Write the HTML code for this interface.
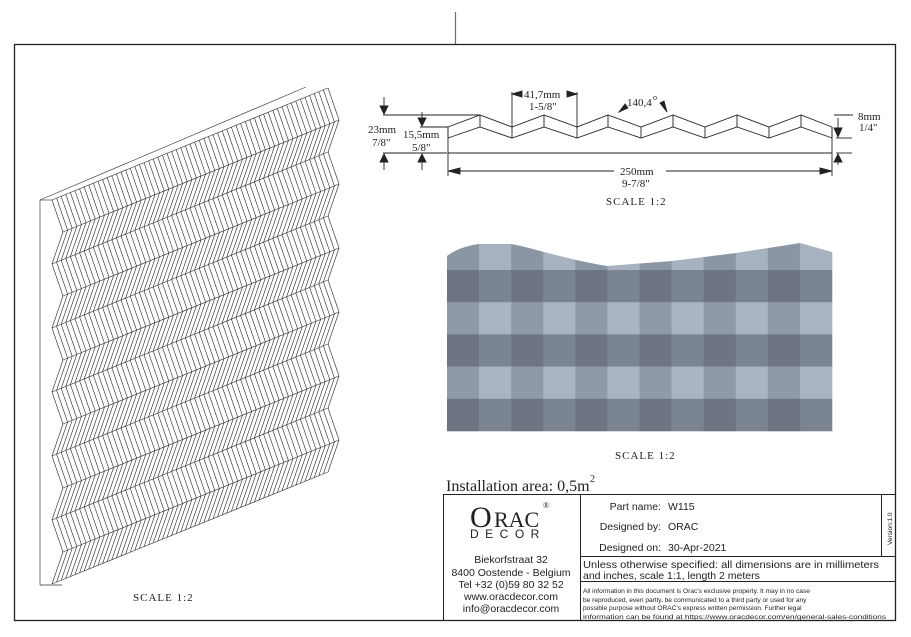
<!DOCTYPE html>
<html><head><meta charset="utf-8"><style>
html,body{margin:0;padding:0;background:#fff;width:911px;height:637px;overflow:hidden}
svg{display:block}
.s{font-family:"Liberation Serif",serif}
.a{font-family:"Liberation Sans",sans-serif}
</style></head><body>
<svg id="g" width="911" height="637" viewBox="0 0 911 637" xmlns="http://www.w3.org/2000/svg">
<rect x="0" y="0" width="911" height="637" fill="#fff"/>
<line x1="455.5" y1="12" x2="455.5" y2="44" stroke="#2a8a9a" stroke-width="1.2"/>
<rect x="14.5" y="44.5" width="881" height="576" fill="none" stroke="#222" stroke-width="1.3"/>
<g id="panel" stroke="#333" stroke-width="0.65" fill="none"></g>
<g id="grid"></g>
<g id="prof" stroke="#222" stroke-width="0.9" fill="none"></g>
<g stroke="#222" stroke-width="0.9" fill="#222">
<line x1="383" y1="115" x2="480" y2="115"/>
<line x1="420" y1="127" x2="448" y2="127"/>
<line x1="383" y1="153" x2="447" y2="153"/>
<line x1="384" y1="97" x2="384" y2="112"/><polygon points="380,106 388,106 384,114"/>
<line x1="384" y1="156" x2="384" y2="170"/><polygon points="380,162 388,162 384,154"/>
<line x1="422" y1="112" x2="422" y2="124"/><polygon points="418,118 426,118 422,126"/>
<line x1="422" y1="156" x2="422" y2="170"/><polygon points="418,162 426,162 422,154"/>
<line x1="512" y1="92" x2="512" y2="128"/><line x1="577" y1="92" x2="577" y2="128"/>
<line x1="512" y1="94" x2="522" y2="94"/><polygon points="512,94 522,91 522,97"/>
<line x1="567" y1="94" x2="577" y2="94"/><polygon points="577,94 567,91 567,97"/>
<polygon points="619,112 625,104 628,108"/><polygon points="667,112 660,103 664,101"/>
<line x1="448" y1="153" x2="448" y2="176"/><line x1="832" y1="153" x2="832" y2="176"/>
<line x1="448" y1="171" x2="614" y2="171"/><line x1="666" y1="171" x2="832" y2="171"/>
<polygon points="448,171 460,168 460,174"/><polygon points="832,171 820,168 820,174"/>
<line x1="834" y1="115" x2="853" y2="115"/><line x1="836" y1="138" x2="852" y2="138"/>
<line x1="836" y1="153" x2="852" y2="153"/>
<line x1="838" y1="118" x2="838" y2="136"/><polygon points="834,128 842,128 838,137"/>
<line x1="838" y1="155" x2="838" y2="165"/><polygon points="834,162 842,162 838,154"/>
</g>
<g class="s" font-size="11" fill="#222">
<text x="368" y="133">23mm</text><text x="372" y="146">7/8"</text>
<text x="403" y="138">15,5mm</text><text x="412" y="151">5/8"</text>
<text x="524" y="98">41,7mm</text><text x="529" y="110">1-5/8"</text>
<text x="627" y="106">140,4</text><text x="653" y="100" font-size="8">o</text>
<text x="858" y="120">8mm</text><text x="859" y="131">1/4"</text>
<text x="620" y="175">250mm</text><text x="622" y="187">9-7/8"</text>
<text x="606" y="205" letter-spacing="1">SCALE 1:2</text>
<text x="615" y="459" letter-spacing="1">SCALE 1:2</text>
<text x="133" y="601" letter-spacing="1">SCALE 1:2</text>
<text x="446" y="491" font-size="16">Installation area: 0,5m</text><text x="590" y="482" font-size="10">2</text>
</g>
<g stroke="#222" stroke-width="1" fill="none">
<rect x="443.5" y="494.5" width="452" height="126"/>
<line x1="580.5" y1="494" x2="580.5" y2="621"/>
<line x1="881.5" y1="494" x2="881.5" y2="556"/>
<line x1="580" y1="556.5" x2="896" y2="556.5"/>
<line x1="580" y1="581.5" x2="896" y2="581.5"/>
</g>
<g class="s" fill="#222"><text x="470" y="527" font-size="30">O</text><text x="494" y="527" font-size="22">RAC</text><text x="543" y="508" font-size="8">®</text></g>
<text class="a" x="470" y="538" font-size="12" letter-spacing="6.5" fill="#222">DECOR</text>
<g class="a" font-size="10.5" fill="#222" text-anchor="middle">
<text x="511" y="563">Biekorfstraat 32</text><text x="511" y="576">8400 Oostende - Belgium</text>
<text x="511" y="588">Tel  +32 (0)59 80 32 52</text><text x="511" y="600">www.oracdecor.com</text>
<text x="511" y="612">info@oracdecor.com</text>
</g>
<g class="a" font-size="10.5" fill="#222">
<text x="661" y="510" text-anchor="end">Part name:</text><text x="668" y="510">W115</text>
<text x="661" y="530" text-anchor="end">Designed by:</text><text x="668" y="530">ORAC</text>
<text x="661" y="551" text-anchor="end">Designed on:</text><text x="668" y="551">30-Apr-2021</text>
<text x="583" y="568" textLength="296" lengthAdjust="spacingAndGlyphs">Unless otherwise specified: all dimensions are in millimeters</text>
<text x="583" y="579">and inches, scale 1:1, length 2 meters</text>
<g font-size="6.6"><text x="583" y="593">All information in this document is Orac's exclusive property.  It may in no case</text>
<text x="583" y="602">be reproduced, even partly, be communicated to a third party or used for any</text>
<text x="583" y="610">possible purpose without ORAC's express written permission. Further legal</text>
<text x="583" y="619" textLength="303" lengthAdjust="spacingAndGlyphs">information can be found at https://www.oracdecor.com/en/general-sales-conditions</text></g>
<text transform="translate(892,545) rotate(-90)" font-size="6.5">Version:1.0</text>
</g>
</svg>
<script>
(function(){
const NS="http://www.w3.org/2000/svg";
function el(p,t,a){const e=document.createElementNS(NS,t);for(const k in a)e.setAttribute(k,a[k]);p.appendChild(e);return e;}
const P=document.getElementById('panel');
el(P,'line',{x1:40,y1:200,x2:40,y2:585});
el(P,'line',{x1:40,y1:585,x2:62,y2:585});
el(P,'line',{x1:40,y1:200,x2:306,y2:87});
const N=60,x0=52,y0=200,x1=328,y1=88,K=12,H=32,A=11;
for(let i=0;i<=N;i++){const bx=x0+(x1-x0)*i/N,by=y0+(y1-y0)*i/N;let pts=[];
 for(let k=0;k<=K;k++)pts.push((bx+(k%2?A:0)).toFixed(1)+","+(by+k*H).toFixed(1));
 el(P,'polyline',{points:pts.join(" ")});}
for(let k=0;k<=K;k++){const o=k%2?A:0;el(P,'line',{x1:x0+o,y1:y0+k*H,x2:x1+o,y2:y1+k*H});}
el(P,'line',{x1:40,y1:200,x2:52,y2:200});
const G=document.getElementById('grid');
const L=447,cw=385/12,gtop=270,rh=32.2;
for(let c=0;c<12;c++){el(G,'rect',{x:L+c*cw,y:240,width:cw+0.3,height:30,fill:c%2?"#a7b2c1":"#8b96a4"});}
el(G,'path',{d:"M440,235 L440,262 L447,262 L447,256 C455,250 465,246 479,244 L511,244 C530,247 560,258 607,266 L672,261 L736,253 L800,243 L832,252 L840,252 L840,235 Z",fill:"#fff"});
for(let r=0;r<5;r++)for(let c=0;c<12;c++){let f;
 if(r%2==0)f=c%2?"#7b8591":"#6e7582";else f=c%2?"#a9b5c4":"#8e9aa8";
 el(G,'rect',{x:L+c*cw,y:gtop+r*rh,width:cw+0.3,height:rh+0.3,fill:f});}
const R=document.getElementById('prof');
const px=[448,480,512,544,577,608,641,673,705,737,769,801,832];
let t=[],b=[];
px.forEach((x,i)=>{const up=i%2==1;t.push(x+","+(up?115:127));b.push(x+","+(up?127:138));
 el(R,'line',{x1:x,y1:up?115:127,x2:x,y2:up?127:138});});
el(R,'polyline',{points:t.join(" ")});el(R,'polyline',{points:b.join(" ")});
el(R,'line',{x1:448,y1:127,x2:448,y2:153});el(R,'line',{x1:832,y1:127,x2:832,y2:153});
el(R,'line',{x1:448,y1:153,x2:832,y2:153});
})();
</script>
</body></html>
